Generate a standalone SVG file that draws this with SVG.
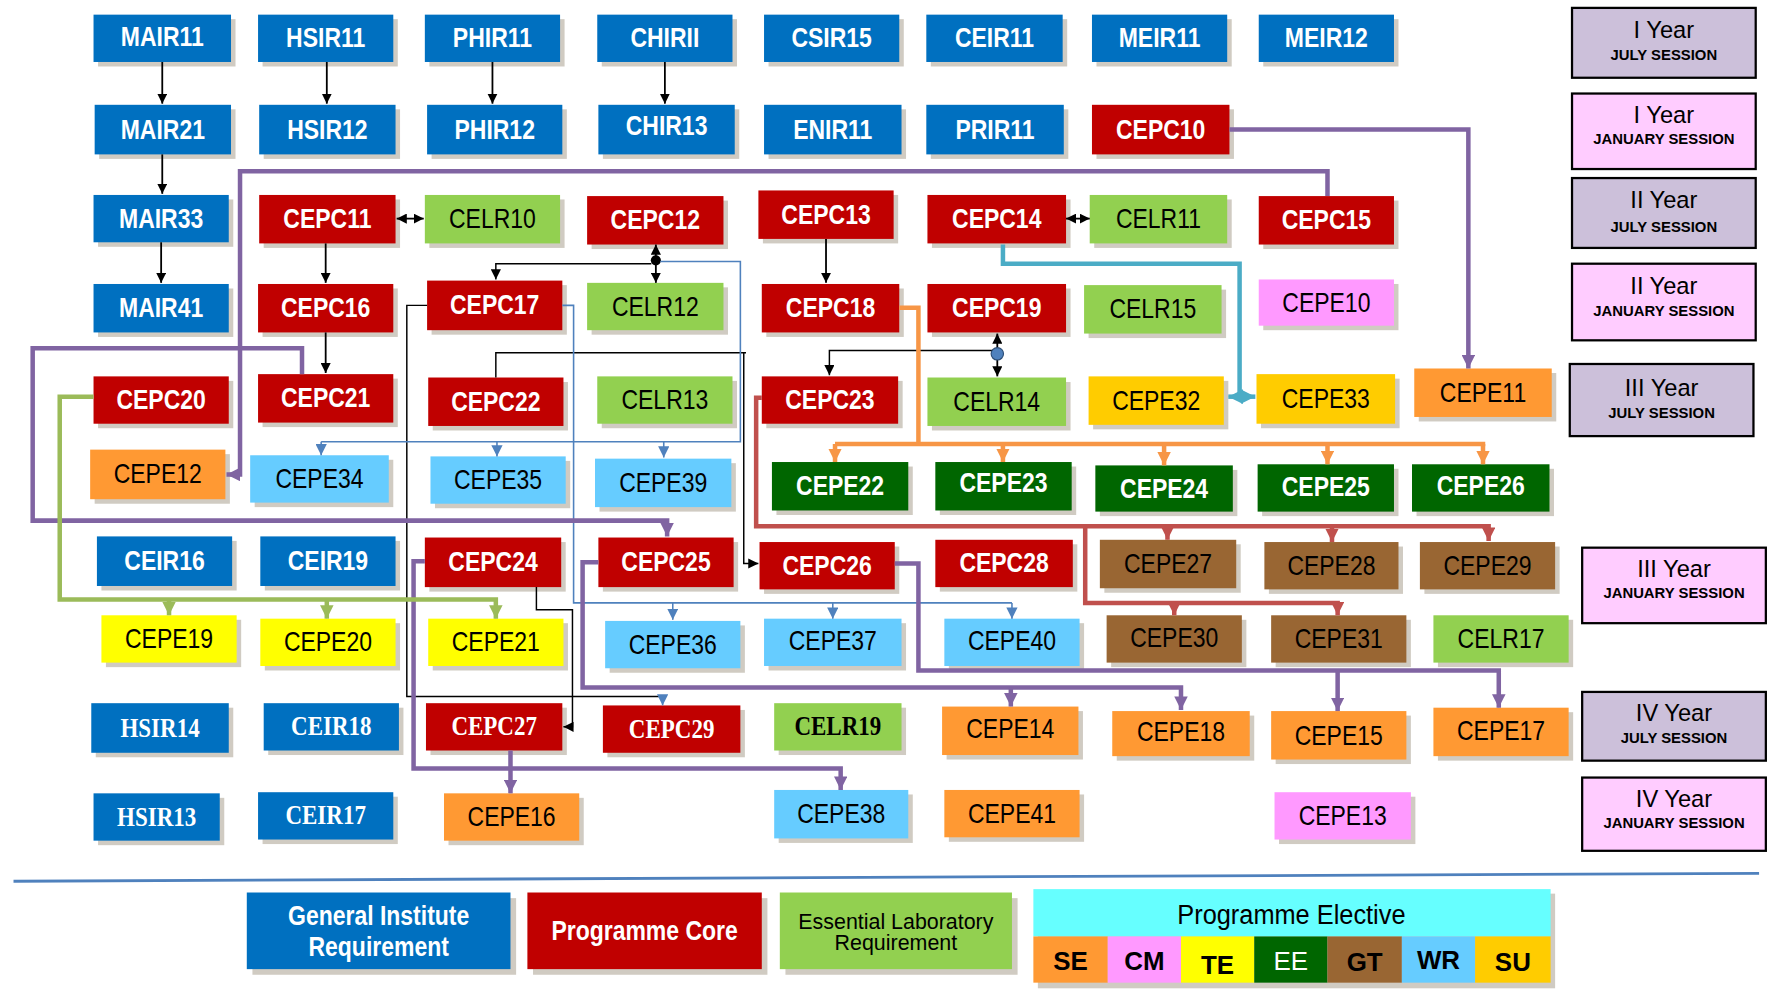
<svg xmlns="http://www.w3.org/2000/svg" width="1767" height="990" viewBox="0 0 1767 990">
<defs>
<style>
.sh{fill:#8a7d66;opacity:.4}
.gi{fill:#0070c0}.pc{fill:#c00000}.lr{fill:#92d050}.se{fill:#ff9933}.cm{fill:#ff99ff}.te{fill:#ffff00}.ee{fill:#006600}.gt{fill:#996633}.wr{fill:#66ccff}.su{fill:#ffcc00}
text{text-anchor:middle}
.w,.k,.ws,.ks,.cx{transform-box:fill-box;transform-origin:center;transform:scaleX(.85)}
.w{fill:#fff;font-family:'Liberation Sans Narrow','Liberation Sans',sans-serif;font-weight:bold;font-size:24px}
.k{fill:#000;font-family:'Liberation Sans Narrow','Liberation Sans',sans-serif;font-size:24px}
.ws{fill:#fff;font-family:'Liberation Serif',serif;font-weight:bold;font-size:24px}
.ks{fill:#000;font-family:'Liberation Serif',serif;font-weight:bold;font-size:24px}
.yr{fill:#000;font-family:'Liberation Sans',sans-serif;font-size:21px}
.ss{fill:#000;font-family:'Liberation Sans',sans-serif;font-weight:bold;font-size:13.2px}
.jul{fill:#ccc0da;stroke:#000;stroke-width:2}
.jan{fill:#ffccff;stroke:#000;stroke-width:2}
.cb{fill:none;stroke:#000;stroke-width:1.6}
.cbt{fill:none;stroke:#000;stroke-width:1.3}
.cbl{fill:none;stroke:#4f81bd;stroke-width:1.4}
.cor{fill:none;stroke:#f79646;stroke-width:4}
.ctl{fill:none;stroke:#4bacc6;stroke-width:4}
.cpu{fill:none;stroke:#8064a2;stroke-width:4}
.crd{fill:none;stroke:#c0504d;stroke-width:4}
.cgr{fill:none;stroke:#9bbb59;stroke-width:4}
.lt{font-family:'Liberation Sans',sans-serif}
</style>
<marker id="ak" viewBox="0 0 10 10" refX="10" refY="5" markerWidth="9" markerHeight="9" orient="auto-start-reverse" markerUnits="userSpaceOnUse"><path d="M0,0 L10,5 L0,10 z" fill="#000"/></marker>
<marker id="abl" viewBox="0 0 10 10" refX="10" refY="5" markerWidth="10" markerHeight="10" orient="auto-start-reverse" markerUnits="userSpaceOnUse"><path d="M0,0 L10,5 L0,10 z" fill="#4f81bd"/></marker>
<marker id="aor" viewBox="0 0 10 10" refX="10" refY="5" markerWidth="12" markerHeight="12" orient="auto-start-reverse" markerUnits="userSpaceOnUse"><path d="M0,0 L10,5 L0,10 z" fill="#f79646"/></marker>
<marker id="atl" viewBox="0 0 10 10" refX="10" refY="5" markerWidth="13" markerHeight="13" orient="auto-start-reverse" markerUnits="userSpaceOnUse"><path d="M0,0 L10,5 L0,10 z" fill="#4bacc6"/></marker>
<marker id="apu" viewBox="0 0 10 10" refX="10" refY="5" markerWidth="12" markerHeight="12" orient="auto-start-reverse" markerUnits="userSpaceOnUse"><path d="M0,0 L10,5 L0,10 z" fill="#8064a2"/></marker>
<marker id="ard" viewBox="0 0 10 10" refX="10" refY="5" markerWidth="12" markerHeight="12" orient="auto-start-reverse" markerUnits="userSpaceOnUse"><path d="M0,0 L10,5 L0,10 z" fill="#c0504d"/></marker>
<marker id="agr" viewBox="0 0 10 10" refX="10" refY="5" markerWidth="12" markerHeight="12" orient="auto-start-reverse" markerUnits="userSpaceOnUse"><path d="M0,0 L10,5 L0,10 z" fill="#9bbb59"/></marker>
</defs>
<rect width="1767" height="990" fill="#fff"/>
<g transform="scale(1.1269)">

<g id="nodes">
<!-- Row 1 -->
<g id="MAIR11"><rect class="sh" x="87" y="17" width="122" height="42"/><rect class="gi" x="83" y="13" width="122" height="42"/><text class="w" x="144" y="41">MAIR11</text></g>
<g id="HSIR11"><rect class="sh" x="233" y="17" width="120" height="42"/><rect class="gi" x="229" y="13" width="120" height="42"/><text class="w" x="289" y="42">HSIR11</text></g>
<g id="PHIR11"><rect class="sh" x="381" y="17" width="120" height="42"/><rect class="gi" x="377" y="13" width="120" height="42"/><text class="w" x="437" y="42">PHIR11</text></g>
<g id="CHIRII"><rect class="sh" x="534" y="17" width="120" height="42"/><rect class="gi" x="530" y="13" width="120" height="42"/><text class="w" x="590" y="42">CHIRII</text></g>
<g id="CSIR15"><rect class="sh" x="682" y="17" width="120" height="42"/><rect class="gi" x="678" y="13" width="120" height="42"/><text class="w" x="738" y="42">CSIR15</text></g>
<g id="CEIR11"><rect class="sh" x="826" y="17" width="121" height="42"/><rect class="gi" x="822" y="13" width="121" height="42"/><text class="w" x="882.5" y="42">CEIR11</text></g>
<g id="MEIR11"><rect class="sh" x="973" y="17" width="120" height="42"/><rect class="gi" x="969" y="13" width="120" height="42"/><text class="w" x="1029" y="42">MEIR11</text></g>
<g id="MEIR12"><rect class="sh" x="1121" y="17" width="120" height="42"/><rect class="gi" x="1117" y="13" width="120" height="42"/><text class="w" x="1177" y="42">MEIR12</text></g>
<!-- Row 2 -->
<g id="MAIR21"><rect class="sh" x="88" y="97" width="121" height="44"/><rect class="gi" x="84" y="93" width="121" height="44"/><text class="w" x="144.5" y="123">MAIR21</text></g>
<g id="HSIR12"><rect class="sh" x="234" y="97" width="121" height="44"/><rect class="gi" x="230" y="93" width="121" height="44"/><text class="w" x="290.5" y="123">HSIR12</text></g>
<g id="PHIR12"><rect class="sh" x="383" y="97" width="120" height="44"/><rect class="gi" x="379" y="93" width="120" height="44"/><text class="w" x="439" y="123">PHIR12</text></g>
<g id="CHIR13"><rect class="sh" x="535" y="97" width="121" height="44"/><rect class="gi" x="531" y="93" width="121" height="44"/><text class="w" x="591.5" y="120">CHIR13</text></g>
<g id="ENIR11"><rect class="sh" x="682" y="97" width="122" height="44"/><rect class="gi" x="678" y="93" width="122" height="44"/><text class="w" x="739" y="123">ENIR11</text></g>
<g id="PRIR11"><rect class="sh" x="826" y="97" width="122" height="44"/><rect class="gi" x="822" y="93" width="122" height="44"/><text class="w" x="883" y="123">PRIR11</text></g>
<g id="CEPC10"><rect class="sh" x="973" y="97" width="122" height="44"/><rect class="pc" x="969" y="93" width="122" height="44"/><text class="w" x="1030" y="123">CEPC10</text></g>
<!-- Row 3 -->
<g id="MAIR33"><rect class="sh" x="87" y="177" width="120" height="42"/><rect class="gi" x="83" y="173" width="120" height="42"/><text class="w" x="143" y="202">MAIR33</text></g>
<g id="CEPC11"><rect class="sh" x="234" y="177" width="121" height="43"/><rect class="pc" x="230" y="173" width="121" height="43"/><text class="w" x="290.5" y="202.5">CEPC11</text></g>
<g id="CELR10"><rect class="sh" x="381" y="177" width="120" height="43"/><rect class="lr" x="377" y="173" width="120" height="43"/><text class="k" x="437" y="202.5">CELR10</text></g>
<g id="CEPC12"><rect class="sh" x="525" y="178" width="121" height="43"/><rect class="pc" x="521" y="174" width="121" height="43"/><text class="w" x="581.5" y="203.5">CEPC12</text></g>
<g id="CEPC13"><rect class="sh" x="677" y="173" width="120" height="43"/><rect class="pc" x="673" y="169" width="120" height="43"/><text class="w" x="733" y="198.5">CEPC13</text></g>
<g id="CEPC14"><rect class="sh" x="827" y="177" width="123" height="43"/><rect class="pc" x="823" y="173" width="123" height="43"/><text class="w" x="884.5" y="202.5">CEPC14</text></g>
<g id="CELR11"><rect class="sh" x="971" y="177" width="122" height="43"/><rect class="lr" x="967" y="173" width="122" height="43"/><text class="k" x="1028" y="202.5">CELR11</text></g>
<g id="CEPC15"><rect class="sh" x="1121" y="178" width="120" height="43"/><rect class="pc" x="1117" y="174" width="120" height="43"/><text class="w" x="1177" y="203.5">CEPC15</text></g>
<!-- Row 4 -->
<g id="MAIR41"><rect class="sh" x="87" y="256" width="120" height="43"/><rect class="gi" x="83" y="252" width="120" height="43"/><text class="w" x="143" y="281.5">MAIR41</text></g>
<g id="CEPC16"><rect class="sh" x="233" y="256" width="120" height="43"/><rect class="pc" x="229" y="252" width="120" height="43"/><text class="w" x="289" y="281.5">CEPC16</text></g>
<g id="CEPC17"><rect class="sh" x="383" y="253" width="120" height="44"/><rect class="pc" x="379" y="249" width="120" height="44"/><text class="w" x="439" y="279">CEPC17</text></g>
<g id="CELR12"><rect class="sh" x="525" y="255" width="121" height="42"/><rect class="lr" x="521" y="251" width="121" height="42"/><text class="k" x="581.5" y="280">CELR12</text></g>
<g id="CEPC18"><rect class="sh" x="680" y="256" width="122" height="43"/><rect class="pc" x="676" y="252" width="122" height="43"/><text class="w" x="737" y="281.5">CEPC18</text></g>
<g id="CEPC19"><rect class="sh" x="827" y="256" width="123" height="43"/><rect class="pc" x="823" y="252" width="123" height="43"/><text class="w" x="884.5" y="281.5">CEPC19</text></g>
<g id="CELR15"><rect class="sh" x="966" y="257" width="122" height="43"/><rect class="lr" x="962" y="253" width="122" height="43"/><text class="k" x="1023" y="282.5">CELR15</text></g>
<g id="CEPE10"><rect class="sh" x="1121" y="252" width="120" height="41"/><rect class="cm" x="1117" y="248" width="120" height="41"/><text class="k" x="1177" y="276.5">CEPE10</text></g>
<!-- Row 5 -->
<g id="CEPC20"><rect class="sh" x="87" y="338" width="120" height="42"/><rect class="pc" x="83" y="334" width="120" height="42"/><text class="w" x="143" y="363">CEPC20</text></g>
<g id="CEPC21"><rect class="sh" x="233" y="336" width="120" height="43"/><rect class="pc" x="229" y="332" width="120" height="43"/><text class="w" x="289" y="361.5">CEPC21</text></g>
<g id="CEPC22"><rect class="sh" x="384" y="339" width="120" height="43"/><rect class="pc" x="380" y="335" width="120" height="43"/><text class="w" x="440" y="364.5">CEPC22</text></g>
<g id="CELR13"><rect class="sh" x="534" y="338" width="120" height="42"/><rect class="lr" x="530" y="334" width="120" height="42"/><text class="k" x="590" y="363">CELR13</text></g>
<g id="CEPC23"><rect class="sh" x="680" y="338" width="121" height="42"/><rect class="pc" x="676" y="334" width="121" height="42"/><text class="w" x="736.5" y="363">CEPC23</text></g>
<g id="CELR14"><rect class="sh" x="827" y="339" width="123" height="43"/><rect class="lr" x="823" y="335" width="123" height="43"/><text class="k" x="884.5" y="364.5">CELR14</text></g>
<g id="CEPE32"><rect class="sh" x="970" y="338" width="120" height="43"/><rect class="su" x="966" y="334" width="120" height="43"/><text class="k" x="1026" y="363.5">CEPE32</text></g>
<g id="CEPE33"><rect class="sh" x="1119" y="336" width="123" height="44"/><rect class="su" x="1115" y="332" width="123" height="44"/><text class="k" x="1176.5" y="362">CEPE33</text></g>
<g id="CEPE11"><rect class="sh" x="1259" y="331" width="122" height="43"/><rect class="se" x="1255" y="327" width="122" height="43"/><text class="k" x="1316" y="356.5">CEPE11</text></g>
<!-- Row 6 -->
<g id="CEPE12"><rect class="sh" x="84" y="403" width="120" height="44"/><rect class="se" x="80" y="399" width="120" height="44"/><text class="k" x="140" y="429">CEPE12</text></g>
<g id="CEPE34"><rect class="sh" x="226" y="408" width="123" height="42"/><rect class="wr" x="222" y="404" width="123" height="42"/><text class="k" x="283.5" y="433">CEPE34</text></g>
<g id="CEPE35"><rect class="sh" x="386" y="409" width="120" height="42"/><rect class="wr" x="382" y="405" width="120" height="42"/><text class="k" x="442" y="434">CEPE35</text></g>
<g id="CEPE39"><rect class="sh" x="532" y="411" width="121" height="43"/><rect class="wr" x="528" y="407" width="121" height="43"/><text class="k" x="588.5" y="436.5">CEPE39</text></g>
<g id="CEPE22"><rect class="sh" x="689" y="414" width="121" height="43"/><rect class="ee" x="685" y="410" width="121" height="43"/><text class="w" x="745.5" y="439.5">CEPE22</text></g>
<g id="CEPE23"><rect class="sh" x="834" y="414" width="121" height="43"/><rect class="ee" x="830" y="410" width="121" height="43"/><text class="w" x="890.5" y="437">CEPE23</text></g>
<g id="CEPE24"><rect class="sh" x="976" y="417" width="122" height="41"/><rect class="ee" x="972" y="413" width="122" height="41"/><text class="w" x="1033" y="441.5">CEPE24</text></g>
<g id="CEPE25"><rect class="sh" x="1120" y="416" width="121" height="42"/><rect class="ee" x="1116" y="412" width="121" height="42"/><text class="w" x="1176.5" y="440">CEPE25</text></g>
<g id="CEPE26"><rect class="sh" x="1257" y="416" width="122" height="42"/><rect class="ee" x="1253" y="412" width="122" height="42"/><text class="w" x="1314" y="439">CEPE26</text></g>
<!-- Row 7 -->
<g id="CEIR16"><rect class="sh" x="90" y="480" width="120" height="44"/><rect class="gi" x="86" y="476" width="120" height="44"/><text class="w" x="146" y="506">CEIR16</text></g>
<g id="CEIR19"><rect class="sh" x="235" y="480" width="120" height="44"/><rect class="gi" x="231" y="476" width="120" height="44"/><text class="w" x="291" y="506">CEIR19</text></g>
<g id="CEPC24"><rect class="sh" x="381" y="481" width="121" height="44"/><rect class="pc" x="377" y="477" width="121" height="44"/><text class="w" x="437.5" y="507">CEPC24</text></g>
<g id="CEPC25"><rect class="sh" x="535" y="481" width="120" height="44"/><rect class="pc" x="531" y="477" width="120" height="44"/><text class="w" x="591" y="507">CEPC25</text></g>
<g id="CEPC26"><rect class="sh" x="678" y="485" width="120" height="42"/><rect class="pc" x="674" y="481" width="120" height="42"/><text class="w" x="734" y="510">CEPC26</text></g>
<g id="CEPC28"><rect class="sh" x="834" y="483" width="122" height="42"/><rect class="pc" x="830" y="479" width="122" height="42"/><text class="w" x="891" y="508">CEPC28</text></g>
<g id="CEPE27"><rect class="sh" x="980" y="483" width="121" height="43"/><rect class="gt" x="976" y="479" width="121" height="43"/><text class="k" x="1036.5" y="508.5">CEPE27</text></g>
<g id="CEPE28"><rect class="sh" x="1126" y="485" width="119" height="42"/><rect class="gt" x="1122" y="481" width="119" height="42"/><text class="k" x="1181.5" y="510">CEPE28</text></g>
<g id="CEPE29"><rect class="sh" x="1264" y="485" width="120" height="42"/><rect class="gt" x="1260" y="481" width="120" height="42"/><text class="k" x="1320" y="510">CEPE29</text></g>
<!-- Row 8 -->
<g id="CEPE19"><rect class="sh" x="94" y="550" width="120" height="42"/><rect class="te" x="90" y="546" width="120" height="42"/><text class="k" x="150" y="575">CEPE19</text></g>
<g id="CEPE20"><rect class="sh" x="235" y="553" width="120" height="42"/><rect class="te" x="231" y="549" width="120" height="42"/><text class="k" x="291" y="578">CEPE20</text></g>
<g id="CEPE21"><rect class="sh" x="384" y="553" width="120" height="42"/><rect class="te" x="380" y="549" width="120" height="42"/><text class="k" x="440" y="578">CEPE21</text></g>
<g id="CEPE36"><rect class="sh" x="541" y="555" width="120" height="42"/><rect class="wr" x="537" y="551" width="120" height="42"/><text class="k" x="597" y="580">CEPE36</text></g>
<g id="CEPE37"><rect class="sh" x="682" y="553" width="122" height="42"/><rect class="wr" x="678" y="549" width="122" height="42"/><text class="k" x="739" y="577">CEPE37</text></g>
<g id="CEPE40"><rect class="sh" x="842" y="553" width="120" height="42"/><rect class="wr" x="838" y="549" width="120" height="42"/><text class="k" x="898" y="577">CEPE40</text></g>
<g id="CEPE30"><rect class="sh" x="986" y="550" width="120" height="42"/><rect class="gt" x="982" y="546" width="120" height="42"/><text class="k" x="1042" y="574">CEPE30</text></g>
<g id="CEPE31"><rect class="sh" x="1132" y="550" width="120" height="42"/><rect class="gt" x="1128" y="546" width="120" height="42"/><text class="k" x="1188" y="575">CEPE31</text></g>
<g id="CELR17"><rect class="sh" x="1276" y="550" width="120" height="42"/><rect class="lr" x="1272" y="546" width="120" height="42"/><text class="k" x="1332" y="575">CELR17</text></g>
<!-- Row 9 -->
<g id="HSIR14"><rect class="sh" x="85" y="628" width="122" height="44"/><rect class="gi" x="81" y="624" width="122" height="44"/><text class="ws" x="142" y="654">HSIR14</text></g>
<g id="CEIR18"><rect class="sh" x="238" y="628" width="120" height="42"/><rect class="gi" x="234" y="624" width="120" height="42"/><text class="ws" x="294" y="652">CEIR18</text></g>
<g id="CEPC27"><rect class="sh" x="382" y="628" width="121" height="42"/><rect class="pc" x="378" y="624" width="121" height="42"/><text class="ws" x="438.5" y="652">CEPC27</text></g>
<g id="CEPC29"><rect class="sh" x="539" y="630" width="122" height="42"/><rect class="pc" x="535" y="626" width="122" height="42"/><text class="ws" x="596" y="655">CEPC29</text></g>
<g id="CELR19"><rect class="sh" x="691" y="628" width="113" height="42"/><rect class="lr" x="687" y="624" width="113" height="42"/><text class="ks" x="743.5" y="652">CELR19</text></g>
<g id="CEPE14"><rect class="sh" x="840" y="631" width="121" height="43"/><rect class="se" x="836" y="627" width="121" height="43"/><text class="k" x="896.5" y="655">CEPE14</text></g>
<g id="CEPE18"><rect class="sh" x="991" y="635" width="122" height="40"/><rect class="se" x="987" y="631" width="122" height="40"/><text class="k" x="1048" y="658">CEPE18</text></g>
<g id="CEPE15"><rect class="sh" x="1132" y="635" width="120" height="43"/><rect class="se" x="1128" y="631" width="120" height="43"/><text class="k" x="1188" y="661">CEPE15</text></g>
<g id="CEPE17"><rect class="sh" x="1276" y="632" width="120" height="43"/><rect class="se" x="1272" y="628" width="120" height="43"/><text class="k" x="1332" y="657">CEPE17</text></g>
<!-- Row 10 -->
<g id="HSIR13"><rect class="sh" x="87" y="708" width="112" height="42"/><rect class="gi" x="83" y="704" width="112" height="42"/><text class="ws" x="139" y="733">HSIR13</text></g>
<g id="CEIR17"><rect class="sh" x="233" y="707" width="120" height="42"/><rect class="gi" x="229" y="703" width="120" height="42"/><text class="ws" x="289" y="731">CEIR17</text></g>
<g id="CEPE16"><rect class="sh" x="398" y="708" width="120" height="42"/><rect class="se" x="394" y="704" width="120" height="42"/><text class="k" x="454" y="733">CEPE16</text></g>
<g id="CEPE38"><rect class="sh" x="691" y="705" width="119" height="43"/><rect class="wr" x="687" y="701" width="119" height="43"/><text class="k" x="746.5" y="730.5">CEPE38</text></g>
<g id="CEPE41"><rect class="sh" x="842" y="705" width="120" height="42"/><rect class="se" x="838" y="701" width="120" height="42"/><text class="k" x="898" y="730">CEPE41</text></g>
<g id="CEPE13"><rect class="sh" x="1135" y="707" width="121" height="42"/><rect class="cm" x="1131" y="703" width="121" height="42"/><text class="k" x="1191.5" y="732">CEPE13</text></g>
</g>

<g id="connectors">
<!-- black -->
<path class="cb" d="M144 55V92" marker-end="url(#ak)"/>
<path class="cb" d="M144 137V172" marker-end="url(#ak)"/>
<path class="cb" d="M143 215V251" marker-end="url(#ak)"/>
<path class="cb" d="M290 55V92" marker-end="url(#ak)"/>
<path class="cb" d="M437 55V92" marker-end="url(#ak)"/>
<path class="cb" d="M590 55V92" marker-end="url(#ak)"/>
<path class="cb" d="M289 216V251" marker-end="url(#ak)"/>
<path class="cb" d="M733 212V251" marker-end="url(#ak)"/>
<path class="cb" d="M289 295V331" marker-end="url(#ak)"/>
<path class="cb" d="M352 194H376" marker-start="url(#ak)" marker-end="url(#ak)"/>
<path class="cb" d="M946 194H967" marker-start="url(#ak)" marker-end="url(#ak)"/>
<path class="cb" d="M582 217V251" marker-start="url(#ak)" marker-end="url(#ak)"/>
<circle cx="582" cy="231" r="4.5" fill="#000"/>
<path class="cbt" d="M578 234H440V248" marker-end="url(#ak)"/>
<path class="cb" d="M885 296V334" marker-start="url(#ak)" marker-end="url(#ak)"/>
<path class="cbt" d="M885 311H736V333" marker-end="url(#ak)"/>
<circle cx="885" cy="314" r="5.5" fill="#4f81bd" stroke="#2c4d75" stroke-width="1"/>
<path class="cbt" d="M440 335V313H662M660 313V500H673" marker-end="url(#ak)"/>
<path class="cbt" d="M379 271H361V618H588"/>
<path class="cbl" d="M588 618V626" marker-end="url(#abl)"/>
<path class="cbt" d="M476 521V541H508V645H500" marker-end="url(#ak)"/>
<!-- thin blue -->
<path class="cbl" d="M586 232H657V392H285"/>
<path class="cbl" d="M285 392V404" marker-end="url(#abl)"/>
<path class="cbl" d="M441 392V405" marker-end="url(#abl)"/>
<path class="cbl" d="M589 392V406" marker-end="url(#abl)"/>
<path class="cbl" d="M499 271H509V535H898"/>
<path class="cbl" d="M597 535V550" marker-end="url(#abl)"/>
<path class="cbl" d="M739 535V549" marker-end="url(#abl)"/>
<path class="cbl" d="M898 535V549" marker-end="url(#abl)"/>
<!-- orange -->
<path class="cor" d="M798 273H815V394M741 394H1318"/>
<path class="cor" d="M741 394V410" marker-end="url(#aor)"/>
<path class="cor" d="M890 394V410" marker-end="url(#aor)"/>
<path class="cor" d="M1033 394V413" marker-end="url(#aor)"/>
<path class="cor" d="M1178 394V412" marker-end="url(#aor)"/>
<path class="cor" d="M1316 394V412" marker-end="url(#aor)"/>
<!-- teal -->
<path class="ctl" d="M890 217V234H1100V352"/>
<path class="ctl" d="M1090 352H1114" marker-start="url(#atl)" marker-end="url(#atl)"/>
<!-- purple -->
<path class="cpu" d="M1091 115H1303V327" marker-end="url(#apu)"/>
<path class="cpu" d="M1178 174V152H213V421H201" marker-end="url(#apu)"/>
<path class="cpu" d="M268 332V309H29V462H592V476" marker-end="url(#apu)"/>
<path class="cpu" d="M531 499H517V610H1048V630" marker-end="url(#apu)"/>
<path class="cpu" d="M897 610V627" marker-end="url(#apu)"/>
<path class="cpu" d="M794 500H815V595H1330V628" marker-end="url(#apu)"/>
<path class="cpu" d="M1187 595V631" marker-end="url(#apu)"/>
<path class="cpu" d="M377 498H367V682H746V701" marker-end="url(#apu)"/>
<path class="cpu" d="M453 666V704" marker-end="url(#apu)"/>
<!-- red -->
<path class="crd" d="M676 353H671V467H1321V480" marker-end="url(#ard)"/>
<path class="crd" d="M1036 467V479" marker-end="url(#ard)"/>
<path class="crd" d="M1182 467V481" marker-end="url(#ard)"/>
<path class="crd" d="M963 467V535H1189"/>
<path class="crd" d="M1042 535V546" marker-end="url(#ard)"/>
<path class="crd" d="M1187 535V546" marker-end="url(#ard)"/>
<!-- green -->
<path class="cgr" d="M83 352H53V532H440V549" marker-end="url(#agr)"/>
<path class="cgr" d="M150 532V546" marker-end="url(#agr)"/>
<path class="cgr" d="M290 532V549" marker-end="url(#agr)"/>
</g>

<g id="sessions">
<g id="y1jul"><rect class="jul" x="1395" y="7" width="163" height="62"/><text class="yr" x="1476.5" y="34">I Year</text><text class="ss" x="1476.5" y="53">JULY SESSION</text></g>
<g id="y1jan"><rect class="jan" x="1395" y="83" width="163" height="67"/><text class="yr" x="1476.5" y="109">I Year</text><text class="ss" x="1476.5" y="128">JANUARY SESSION</text></g>
<g id="y2jul"><rect class="jul" x="1395" y="158" width="163" height="62"/><text class="yr" x="1476.5" y="185">II Year</text><text class="ss" x="1476.5" y="206">JULY SESSION</text></g>
<g id="y2jan"><rect class="jan" x="1395" y="234" width="163" height="68"/><text class="yr" x="1476.5" y="261">II Year</text><text class="ss" x="1476.5" y="280">JANUARY SESSION</text></g>
<g id="y3jul"><rect class="jul" x="1393" y="323" width="163" height="64"/><text class="yr" x="1474.5" y="351">III Year</text><text class="ss" x="1474.5" y="371">JULY SESSION</text></g>
<g id="y3jan"><rect class="jan" x="1404" y="486" width="163" height="67"/><text class="yr" x="1485.5" y="512">III Year</text><text class="ss" x="1485.5" y="531">JANUARY SESSION</text></g>
<g id="y4jul"><rect class="jul" x="1404" y="614" width="163" height="61"/><text class="yr" x="1485.5" y="640">IV Year</text><text class="ss" x="1485.5" y="659">JULY SESSION</text></g>
<g id="y4jan"><rect class="jan" x="1404" y="690" width="163" height="65"/><text class="yr" x="1485.5" y="716">IV Year</text><text class="ss" x="1485.5" y="735">JANUARY SESSION</text></g>
</g>

<path d="M12 782L1561 775" stroke="#4f81bd" stroke-width="2.5" fill="none"/>

<g id="legend">
<g id="lg-gi"><rect class="sh" x="224" y="797" width="234" height="68"/><rect class="gi" x="219" y="792" width="234" height="68"/><text class="lt cx" x="336" y="821" fill="#fff" font-weight="bold" font-size="24">General Institute</text><text class="lt cx" x="336" y="848" fill="#fff" font-weight="bold" font-size="24">Requirement</text></g>
<g id="lg-pc"><rect class="sh" x="473" y="797" width="208" height="68"/><rect class="pc" x="468" y="792" width="208" height="68"/><text class="lt cx" x="572" y="834" fill="#fff" font-weight="bold" font-size="24">Programme Core</text></g>
<g id="lg-lr"><rect class="sh" x="697" y="797" width="206" height="68"/><rect class="lr" x="692" y="792" width="206" height="68"/><text class="lt" x="795" y="824" fill="#000" font-size="19">Essential Laboratory</text><text class="lt" x="795" y="843" fill="#000" font-size="19">Requirement</text></g>
<g id="lg-pe">
<rect class="sh" x="921" y="793" width="459" height="84"/>
<rect x="917" y="789" width="459" height="42" fill="#66ffff"/>
<text class="lt cx" x="1146" y="820" fill="#000" font-size="25" style="transform:scaleX(.9)">Programme Elective</text>
<rect class="se" x="917" y="831" width="66" height="41"/><text class="lt" x="950" y="861" font-weight="bold" font-size="23">SE</text>
<rect class="cm" x="983" y="831" width="65" height="41"/><text class="lt" x="1015.5" y="861" font-weight="bold" font-size="23">CM</text>
<rect class="te" x="1048" y="831" width="65" height="41"/><text class="lt" x="1080.5" y="864" font-weight="bold" font-size="23">TE</text>
<rect class="ee" x="1113" y="831" width="65" height="41"/><text class="lt" x="1145.5" y="861" fill="#fff" font-size="23">EE</text>
<rect class="gt" x="1178" y="831" width="66" height="41"/><text class="lt" x="1211" y="862" font-weight="bold" font-size="23">GT</text>
<rect class="wr" x="1244" y="831" width="65" height="41"/><text class="lt" x="1276.5" y="860" font-weight="bold" font-size="23">WR</text>
<rect class="su" x="1309" y="831" width="67" height="41"/><text class="lt" x="1342.5" y="862" font-weight="bold" font-size="23">SU</text>
</g>
</g>

</g>
</svg>
